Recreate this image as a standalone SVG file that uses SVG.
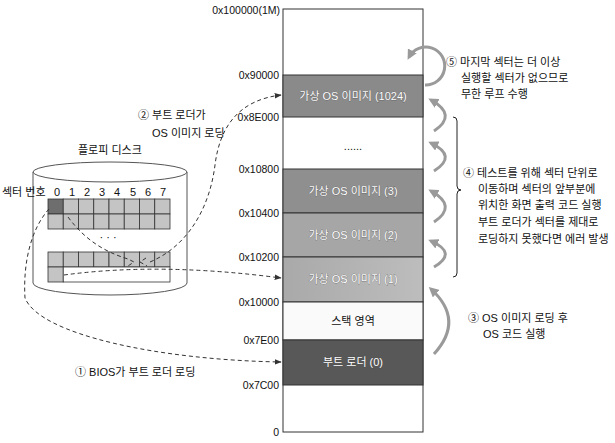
<svg xmlns="http://www.w3.org/2000/svg" width="615" height="443" viewBox="0 0 615 443">
<defs>
<style>
text{font-family:"Liberation Sans","Noto Sans CJK KR",sans-serif;font-size:11px;fill:#111}
.hex{font-size:10.5px;text-anchor:end}
.blk{text-anchor:middle;font-size:11px}
.wt{fill:#fff;stroke:#444;stroke-width:0.4px;paint-order:stroke}
.mem{stroke:#333;stroke-width:1}
.cell{fill:#c4c4c4;stroke:#333;stroke-width:0.8}
.dash{fill:none;stroke:#333;stroke-width:1;stroke-dasharray:4 3}
.arc{fill:none;stroke:#9a9a9a;stroke-width:3}
</style>
<marker id="ah" viewBox="0 0 10 10" refX="9" refY="5" markerWidth="7" markerHeight="7" orient="auto" markerUnits="userSpaceOnUse">
<path d="M0,1 L10,5 L0,9 Z" fill="#333"/>
</marker>
<marker id="ga" viewBox="0 0 10 10" refX="7" refY="5" markerWidth="10" markerHeight="10" orient="auto" markerUnits="userSpaceOnUse">
<path d="M0,0 L10,5 L0,10 Z" fill="#9a9a9a"/>
</marker>
<linearGradient id="g1" x1="0" x2="1" y1="0" y2="0"><stop offset="0" stop-color="#a9a9a9"/><stop offset="1" stop-color="#bdbdbd"/></linearGradient>
</defs>

<g id="memory">
<rect x="283" y="9" width="140" height="423" fill="#fff" class="mem"/>
<g id="img1024"><rect x="283" y="75" width="140" height="42" fill="#8a8a8a" class="mem"/><text class="blk wt" x="353" y="100">가상 OS 이미지 (1024)</text></g>
<g id="dots"><text class="blk" x="353" y="150">......</text></g>
<g id="img3"><rect x="283" y="169" width="140" height="44" fill="#8f8f8f" class="mem"/><text class="blk wt" x="353" y="195">가상 OS 이미지 (3)</text></g>
<g id="img2"><rect x="283" y="213" width="140" height="44" fill="#a6a6a6" class="mem"/><text class="blk wt" x="353" y="239">가상 OS 이미지 (2)</text></g>
<g id="img1"><rect x="283" y="257" width="140" height="45" fill="url(#g1)" class="mem"/><text class="blk wt" x="353" y="283">가상 OS 이미지 (1)</text></g>
<g id="stack"><rect x="283" y="302" width="140" height="38" fill="#fafafa" class="mem"/><text class="blk" x="353" y="325">스택 영역</text></g>
<g id="boot"><rect x="283" y="340" width="140" height="45" fill="#585858" class="mem"/><text class="blk wt" x="353" y="366">부트 로더 (0)</text></g>
</g>

<g id="addresses">
<text class="hex" x="280" y="14">0x100000(1M)</text>
<text class="hex" x="279" y="79">0x90000</text>
<text class="hex" x="279" y="121">0x8E000</text>
<text class="hex" x="279" y="173">0x10800</text>
<text class="hex" x="279" y="217">0x10400</text>
<text class="hex" x="279" y="261">0x10200</text>
<text class="hex" x="279" y="306">0x10000</text>
<text class="hex" x="279" y="344">0x7E00</text>
<text class="hex" x="279" y="389">0x7C00</text>
<text class="hex" x="279" y="436">0</text>
</g>

<g id="floppy">
<path d="M33,172 L33,283 A77,12 0 0 0 187,283 L187,172" fill="#fff" stroke="#555" stroke-width="1"/>
<ellipse cx="110" cy="172" rx="77" ry="10" fill="#fff" stroke="#555" stroke-width="1"/>
<text x="78" y="154">플로피 디스크</text>
<text x="2" y="196">섹터 번호</text>
<g text-anchor="middle">
<text x="57" y="196">0</text><text x="72" y="196">1</text><text x="87" y="196">2</text><text x="102" y="196">3</text><text x="117" y="196">4</text><text x="133" y="196">5</text><text x="148" y="196">6</text><text x="163" y="196">7</text>
</g>
<g id="grid-top">
<rect class="cell" x="48" y="199" width="15.25" height="15" style="fill:#6e6e6e"/>
<rect class="cell" x="63.25" y="199" width="15.25" height="15"/>
<rect class="cell" x="78.5" y="199" width="15.25" height="15"/>
<rect class="cell" x="93.75" y="199" width="15.25" height="15"/>
<rect class="cell" x="109" y="199" width="15.25" height="15"/>
<rect class="cell" x="124.25" y="199" width="15.25" height="15"/>
<rect class="cell" x="139.5" y="199" width="15.25" height="15"/>
<rect class="cell" x="154.75" y="199" width="15.25" height="15"/>
<rect class="cell" x="48" y="214" width="15.25" height="15"/>
<rect class="cell" x="63.25" y="214" width="15.25" height="15"/>
<rect class="cell" x="78.5" y="214" width="15.25" height="15"/>
<rect class="cell" x="93.75" y="214" width="15.25" height="15"/>
<rect class="cell" x="109" y="214" width="15.25" height="15"/>
<rect class="cell" x="124.25" y="214" width="15.25" height="15"/>
<rect class="cell" x="139.5" y="214" width="15.25" height="15"/>
<rect class="cell" x="154.75" y="214" width="15.25" height="15"/>
</g>
<text x="108" y="241" text-anchor="middle">· · ·</text>
<g id="grid-bottom">
<rect class="cell" x="48" y="252" width="15.25" height="15"/>
<rect class="cell" x="63.25" y="252" width="15.25" height="15"/>
<rect class="cell" x="78.5" y="252" width="15.25" height="15"/>
<rect class="cell" x="93.75" y="252" width="15.25" height="15"/>
<rect class="cell" x="109" y="252" width="15.25" height="15"/>
<rect class="cell" x="124.25" y="252" width="15.25" height="15"/>
<rect class="cell" x="139.5" y="252" width="15.25" height="15"/>
<rect class="cell" x="154.75" y="252" width="15.25" height="15"/>
<rect class="cell" x="48" y="267" width="15.25" height="15"/>
<rect x="63.25" y="267" width="106.75" height="15" fill="#fff" stroke="#333" stroke-width="0.8"/>
</g>
</g>

<g id="connectors">
<path class="dash" d="M49,209 C30,230 23,265 25,298 C40,335 160,360 281,362" marker-end="url(#ah)"/>
<path class="dash" d="M68,217 C85,240 105,252 128,259 L134,262 L128,266"/>
<path class="dash" d="M146,258 L140,262 L147,266"/>
<path class="dash" d="M150,262 C190,245 210,205 215,165 C220,125 240,100 281,95" marker-end="url(#ah)"/>
<path class="dash" d="M64,275 Q160,262 281,278" marker-end="url(#ah)"/>
<path class="arc" d="M425,85 A19,19 0 1 0 409,57" marker-end="url(#ga)"/>
<path class="arc" d="M434,131 Q458,115 431,100" marker-end="url(#ga)"/>
<path class="arc" d="M434,171 Q458,156 431,143" marker-end="url(#ga)"/>
<path class="arc" d="M434,222 Q458,206 431,191" marker-end="url(#ga)"/>
<path class="arc" d="M434,267 Q458,253 431,241" marker-end="url(#ga)"/>
<path class="arc" d="M434,354 Q465,320 431,289" marker-end="url(#ga)"/>
<path d="M453,117 Q457,117 457,121 L457,186 Q457,190 461,190 Q457,190 457,194 L457,273 Q457,277 453,277" fill="none" stroke="#222" stroke-width="1"/>
</g>

<g id="labels">
<text x="138" y="119">② 부트 로더가</text>
<text x="152" y="137">OS 이미지 로딩</text>
<text x="75" y="376">① BIOS가 부트 로더 로딩</text>
<text x="446" y="66">⑤ 마지막 섹터는 더 이상</text>
<text x="461" y="82">실행할 섹터가 없으므로</text>
<text x="461" y="98">무한 루프 수행</text>
<text x="463" y="177">④ 테스트를 위해 섹터 단위로</text>
<text x="478" y="193">이동하며 섹터의 앞부분에</text>
<text x="478" y="209">위치한 화면 출력 코드 실행</text>
<text x="478" y="226">부트 로더가 섹터를 제대로</text>
<text x="478" y="243">로딩하지 못했다면 에러 발생</text>
<text x="468" y="322">③ OS 이미지 로딩 후</text>
<text x="483" y="338">OS 코드 실행</text>
</g>
</svg>
